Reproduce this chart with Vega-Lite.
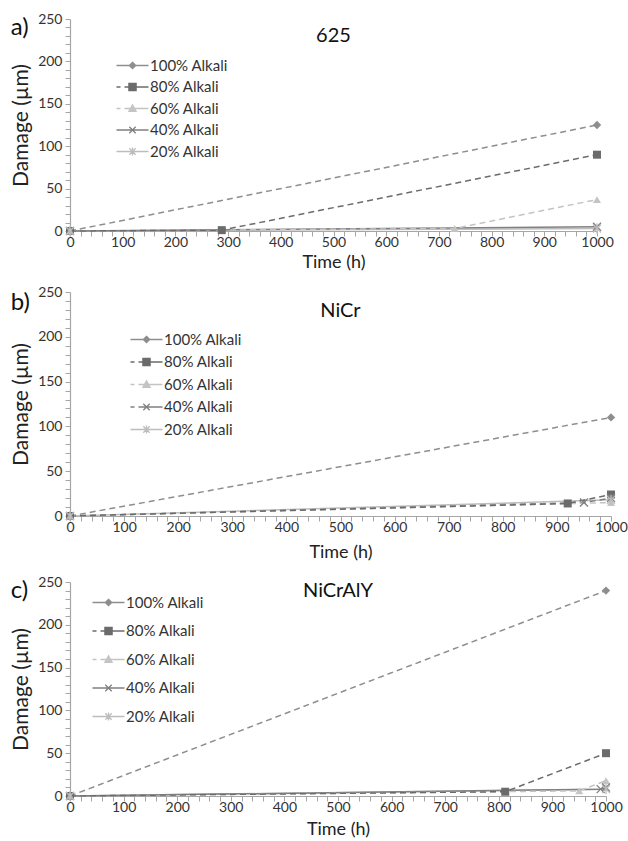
{
  "$schema": "https://vega.github.io/schema/vega-lite/v6.json",
  "padding": {"left": 10, "top": 12, "right": 0, "bottom": 0},
  "datasets": {
    "a": [
      {"s": "100% Alkali", "t": 0, "d": 0}, {"s": "100% Alkali", "t": 1000, "d": 125},
      {"s": "80% Alkali", "t": 0, "d": 0}, {"s": "80% Alkali", "t": 288, "d": 1}, {"s": "80% Alkali", "t": 1000, "d": 90},
      {"s": "60% Alkali", "t": 0, "d": 0}, {"s": "60% Alkali", "t": 730, "d": 3}, {"s": "60% Alkali", "t": 1000, "d": 37},
      {"s": "40% Alkali", "t": 0, "d": 0}, {"s": "40% Alkali", "t": 1000, "d": 5},
      {"s": "20% Alkali", "t": 0, "d": 0}, {"s": "20% Alkali", "t": 1000, "d": 3}
    ],
    "b": [
      {"s": "100% Alkali", "t": 0, "d": 0}, {"s": "100% Alkali", "t": 1000, "d": 110},
      {"s": "80% Alkali", "t": 0, "d": 0}, {"s": "80% Alkali", "t": 920, "d": 14}, {"s": "80% Alkali", "t": 1000, "d": 24},
      {"s": "60% Alkali", "t": 0, "d": 0}, {"s": "60% Alkali", "t": 1000, "d": 15},
      {"s": "40% Alkali", "t": 0, "d": 0}, {"s": "40% Alkali", "t": 950, "d": 15}, {"s": "40% Alkali", "t": 1000, "d": 20},
      {"s": "20% Alkali", "t": 0, "d": 0}, {"s": "20% Alkali", "t": 1000, "d": 18}
    ],
    "c": [
      {"s": "100% Alkali", "t": 0, "d": 0}, {"s": "100% Alkali", "t": 1000, "d": 240},
      {"s": "80% Alkali", "t": 0, "d": 0}, {"s": "80% Alkali", "t": 812, "d": 5}, {"s": "80% Alkali", "t": 1000, "d": 50},
      {"s": "60% Alkali", "t": 0, "d": 0}, {"s": "60% Alkali", "t": 950, "d": 6}, {"s": "60% Alkali", "t": 1000, "d": 18},
      {"s": "40% Alkali", "t": 0, "d": 0}, {"s": "40% Alkali", "t": 990, "d": 8}, {"s": "40% Alkali", "t": 1000, "d": 10},
      {"s": "20% Alkali", "t": 0, "d": 0}, {"s": "20% Alkali", "t": 1000, "d": 8}
    ]
  },
  "spacing": 14,
  "resolve": {
    "scale": {"x": "independent", "y": "independent", "stroke": "independent", "fill": "independent", "shape": "independent"},
    "legend": {"stroke": "independent", "fill": "independent", "shape": "independent"}
  },
  "vconcat": [
    {
      "title": {"text": "a)", "anchor": "start", "frame": "bounds", "fontSize": 24, "fontWeight": "normal", "offset": -28, "color": "#111"},
      "resolve": {"legend": {"stroke": "independent", "fill": "independent", "shape": "independent"}},
      "vconcat": [
        {
          "title": {"text": "625", "fontSize": 20, "fontWeight": "normal", "offset": -34, "color": "#111"},
          "width": 527, "height": 212,
          "data": {"name": "a"},
          "encoding": {
            "x": {"field": "t", "type": "quantitative", "title": "Time (h)", "scale": {"domain": [0, 1000], "nice": false},
              "axis": {"titlePadding": 4, "values": [0,20,40,60,80,100,120,140,160,180,200,220,240,260,280,300,320,340,360,380,400,420,440,460,480,500,520,540,560,580,600,620,640,660,680,700,720,740,760,780,800,820,840,860,880,900,920,940,960,980,1000],
                "labelExpr": "datum.value % 100 === 0 ? datum.label : ''",
                "encode": {"ticks": {"update": {"y2": {"signal": "datum.value % 100 === 0 ? 6 : -3"}}}}}},
            "y": {"field": "d", "type": "quantitative", "title": "Damage (µm)", "scale": {"domain": [0, 250], "nice": false},
              "axis": {"values": [0,10,20,30,40,50,60,70,80,90,100,110,120,130,140,150,160,170,180,190,200,210,220,230,240,250],
                "labelExpr": "datum.value % 50 === 0 ? datum.label : ''",
                "encode": {"ticks": {"update": {"x2": {"signal": "datum.value % 50 === 0 ? -6 : 3"}}}}}}
          },
          "layer": [
            {"transform": [{"filter": "datum.s === '20% Alkali'"}], "mark": {"type": "line", "strokeWidth": 1.5, "color": "#bdbdbd"}},
            {"transform": [{"filter": "datum.s === '40% Alkali'"}], "mark": {"type": "line", "strokeWidth": 1.5, "color": "#808080"}},
            {"transform": [{"filter": "datum.s === '60% Alkali'"}], "mark": {"type": "line", "strokeWidth": 1.5, "color": "#c4c4c4", "strokeDash": [6, 4]}},
            {"transform": [{"filter": "datum.s === '80% Alkali'"}], "mark": {"type": "line", "strokeWidth": 1.5, "color": "#6b6b6b", "strokeDash": [6, 4]}},
            {"transform": [{"filter": "datum.s === '100% Alkali'"}], "mark": {"type": "line", "strokeWidth": 1.5, "color": "#8e8e8e", "strokeDash": [6, 4]}},
            {"transform": [{"filter": "datum.s === '100% Alkali'"}], "mark": {"type": "point", "shape": "diamond", "filled": true, "size": 70, "color": "#8e8e8e", "opacity": 1}},
            {"transform": [{"filter": "datum.s === '80% Alkali'"}], "mark": {"type": "point", "shape": "square", "filled": true, "size": 64, "color": "#6b6b6b", "opacity": 1}},
            {"transform": [{"filter": "datum.s === '60% Alkali'"}], "mark": {"type": "point", "shape": "triangle-up", "filled": true, "size": 64, "color": "#c4c4c4", "opacity": 1}},
            {"transform": [{"filter": "datum.s === '40% Alkali'"}], "mark": {"type": "point", "shape": "M-1,-1L1,1M-1,1L1,-1", "filled": false, "size": 64, "strokeWidth": 1.3, "color": "#808080", "opacity": 1}},
            {"transform": [{"filter": "datum.s === '20% Alkali'"}], "mark": {"type": "point", "shape": "M-1,-1L1,1M-1,1L1,-1M0,-1.3L0,1.3", "filled": false, "size": 64, "strokeWidth": 1.3, "color": "#bdbdbd", "opacity": 1}},
            {"mark": {"type": "point", "filled": true, "fillOpacity": 0, "strokeOpacity": 0},
              "encoding": {
                "shape": {"field": "s", "type": "nominal", "scale": {"domain": ["100% Alkali","80% Alkali","60% Alkali","40% Alkali","20% Alkali"],
                  "range": ["M-4,0L4,0M0,-0.8L0.8,0L0,0.8L-0.8,0Z", "M-4,0L-3,0M-2,0L4,0M-0.9,-0.9L0.9,-0.9L0.9,0.9L-0.9,0.9Z", "M-4,0L-3,0M-2,0L4,0M0,-0.9L0.9,0.7L-0.9,0.7Z", "M-4,0L4,0M-0.8,-0.8L0.8,0.8M-0.8,0.8L0.8,-0.8", "M-4,0L4,0M-0.8,-0.8L0.8,0.8M-0.8,0.8L0.8,-0.8M0,-1L0,1"]},
                  "legend": {"orient": "none", "legendX": 55, "legendY": 39, "title": null, "symbolSize": 64, "symbolOpacity": 1, "symbolStrokeWidth": 1.3, "labelOffset": 10, "rowPadding": 5.5, "labelFontSize": 15}},
                "fill": {"field": "s", "type": "nominal", "scale": {"domain": ["100% Alkali","80% Alkali","60% Alkali","40% Alkali","20% Alkali"], "range": ["#8e8e8e","#6b6b6b","#c4c4c4","#808080","#bdbdbd"]}},
                "stroke": {"field": "s", "type": "nominal", "scale": {"domain": ["100% Alkali","80% Alkali","60% Alkali","40% Alkali","20% Alkali"], "range": ["#8e8e8e","#6b6b6b","#c4c4c4","#808080","#bdbdbd"]}}
              }}
          ]
        }
      ]
    },
    {
      "title": {"text": "b)", "anchor": "start", "frame": "bounds", "fontSize": 24, "fontWeight": "normal", "offset": -30, "color": "#111"},
      "resolve": {"legend": {"stroke": "independent", "fill": "independent", "shape": "independent"}},
      "vconcat": [
        {
          "title": {"text": "NiCr", "fontSize": 20, "fontWeight": "normal", "offset": -36, "color": "#111"},
          "width": 541, "height": 224,
          "data": {"name": "b"},
          "encoding": {
            "x": {"field": "t", "type": "quantitative", "title": "Time (h)", "scale": {"domain": [0, 1000], "nice": false},
              "axis": {"titlePadding": 9, "values": [0,20,40,60,80,100,120,140,160,180,200,220,240,260,280,300,320,340,360,380,400,420,440,460,480,500,520,540,560,580,600,620,640,660,680,700,720,740,760,780,800,820,840,860,880,900,920,940,960,980,1000],
                "labelExpr": "datum.value % 100 === 0 ? datum.label : ''",
                "encode": {"ticks": {"update": {"y2": {"signal": "datum.value % 100 === 0 ? 6 : -3"}}}}}},
            "y": {"field": "d", "type": "quantitative", "title": "Damage (µm)", "scale": {"domain": [0, 250], "nice": false},
              "axis": {"values": [0,10,20,30,40,50,60,70,80,90,100,110,120,130,140,150,160,170,180,190,200,210,220,230,240,250],
                "labelExpr": "datum.value % 50 === 0 ? datum.label : ''",
                "encode": {"ticks": {"update": {"x2": {"signal": "datum.value % 50 === 0 ? -6 : 3"}}}}}}
          },
          "layer": [
            {"transform": [{"filter": "datum.s === '20% Alkali'"}], "mark": {"type": "line", "strokeWidth": 1.5, "color": "#bdbdbd"}},
            {"transform": [{"filter": "datum.s === '40% Alkali'"}], "mark": {"type": "line", "strokeWidth": 1.5, "color": "#808080", "strokeDash": [6, 4]}},
            {"transform": [{"filter": "datum.s === '60% Alkali'"}], "mark": {"type": "line", "strokeWidth": 1.5, "color": "#c4c4c4", "strokeDash": [6, 4]}},
            {"transform": [{"filter": "datum.s === '80% Alkali'"}], "mark": {"type": "line", "strokeWidth": 1.5, "color": "#6b6b6b", "strokeDash": [6, 4]}},
            {"transform": [{"filter": "datum.s === '100% Alkali'"}], "mark": {"type": "line", "strokeWidth": 1.5, "color": "#8e8e8e", "strokeDash": [6, 4]}},
            {"transform": [{"filter": "datum.s === '100% Alkali'"}], "mark": {"type": "point", "shape": "diamond", "filled": true, "size": 70, "color": "#8e8e8e", "opacity": 1}},
            {"transform": [{"filter": "datum.s === '80% Alkali'"}], "mark": {"type": "point", "shape": "square", "filled": true, "size": 64, "color": "#6b6b6b", "opacity": 1}},
            {"transform": [{"filter": "datum.s === '60% Alkali'"}], "mark": {"type": "point", "shape": "triangle-up", "filled": true, "size": 64, "color": "#c4c4c4", "opacity": 1}},
            {"transform": [{"filter": "datum.s === '40% Alkali'"}], "mark": {"type": "point", "shape": "M-1,-1L1,1M-1,1L1,-1", "filled": false, "size": 64, "strokeWidth": 1.3, "color": "#808080", "opacity": 1}},
            {"transform": [{"filter": "datum.s === '20% Alkali'"}], "mark": {"type": "point", "shape": "M-1,-1L1,1M-1,1L1,-1M0,-1.3L0,1.3", "filled": false, "size": 64, "strokeWidth": 1.3, "color": "#bdbdbd", "opacity": 1}},
            {"mark": {"type": "point", "filled": true, "fillOpacity": 0, "strokeOpacity": 0},
              "encoding": {
                "shape": {"field": "s", "type": "nominal", "scale": {"domain": ["100% Alkali","80% Alkali","60% Alkali","40% Alkali","20% Alkali"],
                  "range": ["M-4,0L4,0M0,-0.8L0.8,0L0,0.8L-0.8,0Z", "M-4,0L-3,0M-2,0L4,0M-0.9,-0.9L0.9,-0.9L0.9,0.9L-0.9,0.9Z", "M-4,0L-3,0M-2,0L4,0M0,-0.9L0.9,0.7L-0.9,0.7Z", "M-4,0L-3,0M-2,0L4,0M-0.8,-0.8L0.8,0.8M-0.8,0.8L0.8,-0.8", "M-4,0L4,0M-0.8,-0.8L0.8,0.8M-0.8,0.8L0.8,-0.8M0,-1L0,1"]},
                  "legend": {"orient": "none", "legendX": 69, "legendY": 40, "title": null, "symbolSize": 64, "symbolOpacity": 1, "symbolStrokeWidth": 1.3, "labelOffset": 10, "rowPadding": 6.5, "labelFontSize": 15}},
                "fill": {"field": "s", "type": "nominal", "scale": {"domain": ["100% Alkali","80% Alkali","60% Alkali","40% Alkali","20% Alkali"], "range": ["#8e8e8e","#6b6b6b","#c4c4c4","#808080","#bdbdbd"]}},
                "stroke": {"field": "s", "type": "nominal", "scale": {"domain": ["100% Alkali","80% Alkali","60% Alkali","40% Alkali","20% Alkali"], "range": ["#8e8e8e","#6b6b6b","#c4c4c4","#808080","#bdbdbd"]}}
              }}
          ]
        }
      ]
    },
    {
      "title": {"text": "c)", "anchor": "start", "frame": "bounds", "fontSize": 24, "fontWeight": "normal", "offset": -28, "color": "#111"},
      "resolve": {"legend": {"stroke": "independent", "fill": "independent", "shape": "independent"}},
      "vconcat": [
        {
          "title": {"text": "NiCrAlY", "fontSize": 20, "fontWeight": "normal", "offset": -26, "color": "#111"},
          "width": 536, "height": 214,
          "data": {"name": "c"},
          "encoding": {
            "x": {"field": "t", "type": "quantitative", "title": "Time (h)", "scale": {"domain": [0, 1000], "nice": false},
              "axis": {"titlePadding": 6, "values": [0,20,40,60,80,100,120,140,160,180,200,220,240,260,280,300,320,340,360,380,400,420,440,460,480,500,520,540,560,580,600,620,640,660,680,700,720,740,760,780,800,820,840,860,880,900,920,940,960,980,1000],
                "labelExpr": "datum.value % 100 === 0 ? datum.label : ''",
                "encode": {"ticks": {"update": {"y2": {"signal": "datum.value % 100 === 0 ? 6 : -3"}}}}}},
            "y": {"field": "d", "type": "quantitative", "title": "Damage (µm)", "scale": {"domain": [0, 250], "nice": false},
              "axis": {"values": [0,10,20,30,40,50,60,70,80,90,100,110,120,130,140,150,160,170,180,190,200,210,220,230,240,250],
                "labelExpr": "datum.value % 50 === 0 ? datum.label : ''",
                "encode": {"ticks": {"update": {"x2": {"signal": "datum.value % 50 === 0 ? -6 : 3"}}}}}}
          },
          "layer": [
            {"transform": [{"filter": "datum.s === '20% Alkali'"}], "mark": {"type": "line", "strokeWidth": 1.5, "color": "#bdbdbd"}},
            {"transform": [{"filter": "datum.s === '40% Alkali'"}], "mark": {"type": "line", "strokeWidth": 1.5, "color": "#808080"}},
            {"transform": [{"filter": "datum.s === '60% Alkali'"}], "mark": {"type": "line", "strokeWidth": 1.5, "color": "#c4c4c4", "strokeDash": [6, 4]}},
            {"transform": [{"filter": "datum.s === '80% Alkali'"}], "mark": {"type": "line", "strokeWidth": 1.5, "color": "#6b6b6b", "strokeDash": [6, 4]}},
            {"transform": [{"filter": "datum.s === '100% Alkali'"}], "mark": {"type": "line", "strokeWidth": 1.5, "color": "#8e8e8e", "strokeDash": [6, 4]}},
            {"transform": [{"filter": "datum.s === '100% Alkali'"}], "mark": {"type": "point", "shape": "diamond", "filled": true, "size": 70, "color": "#8e8e8e", "opacity": 1}},
            {"transform": [{"filter": "datum.s === '80% Alkali'"}], "mark": {"type": "point", "shape": "square", "filled": true, "size": 64, "color": "#6b6b6b", "opacity": 1}},
            {"transform": [{"filter": "datum.s === '60% Alkali'"}], "mark": {"type": "point", "shape": "triangle-up", "filled": true, "size": 64, "color": "#c4c4c4", "opacity": 1}},
            {"transform": [{"filter": "datum.s === '40% Alkali'"}], "mark": {"type": "point", "shape": "M-1,-1L1,1M-1,1L1,-1", "filled": false, "size": 64, "strokeWidth": 1.3, "color": "#808080", "opacity": 1}},
            {"transform": [{"filter": "datum.s === '20% Alkali'"}], "mark": {"type": "point", "shape": "M-1,-1L1,1M-1,1L1,-1M0,-1.3L0,1.3", "filled": false, "size": 64, "strokeWidth": 1.3, "color": "#bdbdbd", "opacity": 1}},
            {"mark": {"type": "point", "filled": true, "fillOpacity": 0, "strokeOpacity": 0},
              "encoding": {
                "shape": {"field": "s", "type": "nominal", "scale": {"domain": ["100% Alkali","80% Alkali","60% Alkali","40% Alkali","20% Alkali"],
                  "range": ["M-4,0L4,0M0,-0.8L0.8,0L0,0.8L-0.8,0Z", "M-4,0L-3,0M-2,0L4,0M-0.9,-0.9L0.9,-0.9L0.9,0.9L-0.9,0.9Z", "M-4,0L-3,0M-2,0L4,0M0,-0.9L0.9,0.7L-0.9,0.7Z", "M-4,0L4,0M-0.8,-0.8L0.8,0.8M-0.8,0.8L0.8,-0.8", "M-4,0L4,0M-0.8,-0.8L0.8,0.8M-0.8,0.8L0.8,-0.8M0,-1L0,1"]},
                  "legend": {"orient": "none", "legendX": 31, "legendY": 13, "title": null, "symbolSize": 64, "symbolOpacity": 1, "symbolStrokeWidth": 1.3, "labelOffset": 10, "rowPadding": 12.5, "labelFontSize": 15}},
                "fill": {"field": "s", "type": "nominal", "scale": {"domain": ["100% Alkali","80% Alkali","60% Alkali","40% Alkali","20% Alkali"], "range": ["#8e8e8e","#6b6b6b","#c4c4c4","#808080","#bdbdbd"]}},
                "stroke": {"field": "s", "type": "nominal", "scale": {"domain": ["100% Alkali","80% Alkali","60% Alkali","40% Alkali","20% Alkali"], "range": ["#8e8e8e","#6b6b6b","#c4c4c4","#808080","#bdbdbd"]}}
              }}
          ]
        }
      ]
    }
  ],
  "config": {
    "font": "Lato",
    "view": {"stroke": null},
    "title": {"font": "Lato", "color": "#111"},
    "axis": {"grid": false, "domainColor": "#a6a6a6", "tickColor": "#a6a6a6", "domainWidth": 1.2, "labelFont": "Lato", "labelFontSize": 14, "labelColor": "#333", "titleFont": "Lato", "titleFontWeight": "normal", "titleColor": "#222", "labelOverlap": false, "labelFlush": false, "format": "d"},
    "axisX": {"labelPadding": -1, "titleFontSize": 18},
    "axisY": {"titlePadding": 6, "labelPadding": 3, "titleFontSize": 21},
    "legend": {"labelFont": "Lato", "labelColor": "#333"}
  }
}
